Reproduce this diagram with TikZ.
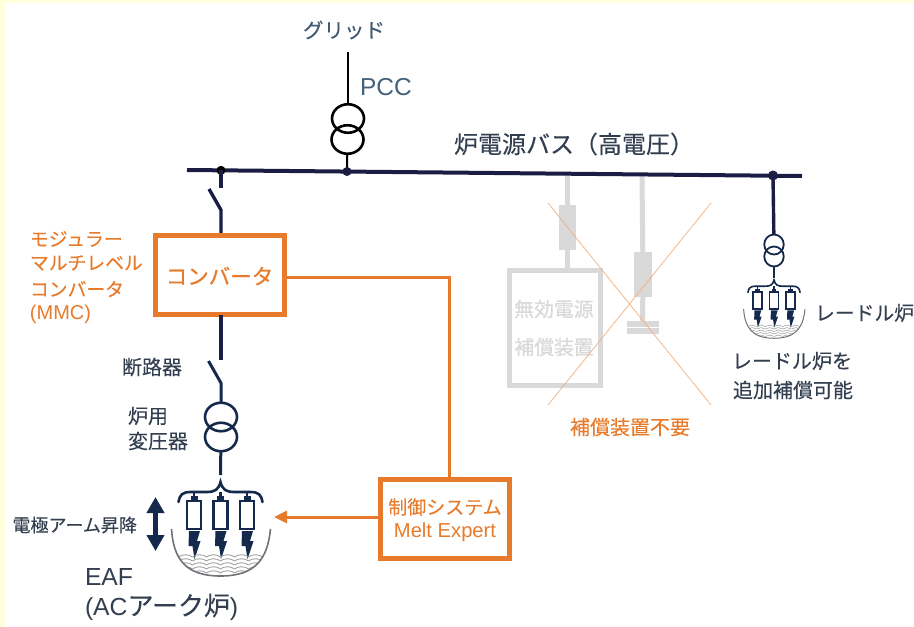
\documentclass[tikz,border=0pt]{standalone}
\usepackage{fontspec}
\setmainfont{Liberation Sans}
\newfontfamily\jp[FakeBold=0.12]{Noto Sans CJK JP}
\newfontfamily\jpm[FakeBold=0.6]{Noto Sans CJK JP}
\usetikzlibrary{arrows.meta,calc,shapes.geometric}
\definecolor{pageyellow}{HTML}{FFFFDC}
\definecolor{navy}{HTML}{1B1D45}
\definecolor{deepnavy}{HTML}{14294B}
\definecolor{ink}{HTML}{333F50}
\definecolor{pccblue}{HTML}{44617B}
\definecolor{brand}{HTML}{E87B2B}
\definecolor{ghost}{HTML}{D9D9D9}
\newcommand{\fs}[1]{\fontsize{#1}{#1}\selectfont}
\tikzset{
 x=1pt,y=-1pt,
 every node/.style={inner sep=0pt,outer sep=0pt},
 bus/.style={navy,line width=4pt},
 feeder/.style={navy,line width=3.4pt},
 wire/.style={deepnavy,line width=3pt},
 winding/.style={ellipse,draw=#1,line width=2.6pt,minimum width=32pt,minimum height=28.5pt,fill=none},
 smallwinding/.style={ellipse,draw=deepnavy,line width=1.8pt,minimum width=19.5pt,minimum height=20pt,fill=none},
 junction/.style={circle,fill=#1,minimum size=9pt},
 orangebox/.style={draw=brand,line width=5pt,fill=white},
 orangeline/.style={brand,line width=3pt},
 ghostline/.style={ghost,line width=5pt},
 ghostfill/.style={fill=ghost,draw=none},
 cross/.style={brand!60,line width=0.7pt},
 label/.style={text=ink,font=\jp\fs{#1}},
 orangetext/.style={text=brand,font=\jp\fs{#1}},
 furnace/.pic={
  \def\lw{#1}
  % brace
  \draw[deepnavy,line width=\lw*2.6pt,line cap=round]
    (-42,20) .. controls (-41,13) and (-38,10) .. (-30,10)
    -- (-14,10) .. controls (-6,10) and (-2,8) .. (0,0)
    .. controls (2,8) and (6,10) .. (14,10)
    -- (30,10) .. controls (38,10) and (41,13) .. (42,20);
  \foreach \ex in {-26.5,0,26.5}{
    \draw[deepnavy,line width=\lw*2.8pt] (\ex,10) -- (\ex,19);
    \fill[deepnavy] (\ex-3.5,14) rectangle (\ex+3.5,19);
    \draw[deepnavy,line width=\lw*2.4pt,fill=white] (\ex-7,19) rectangle (\ex+7,47);
    \fill[deepnavy] (\ex-5,49) -- (\ex+6,49) -- (\ex+3,59) -- (\ex+6.5,59) -- (\ex+0.5,77)
       -- (\ex-1.5,64) -- (\ex-5.5,64) -- cycle;
  }
  % melt
  \begin{scope}
   \clip (-49,47) .. controls (-47,77) and (-35,94) .. (0,94)
      .. controls (35,94) and (47,77) .. (50,47) -- cycle;
   \foreach \wy in {75,79,83,87,91}{
    \foreach \wx in {-56,-42,-28,-14,0,14,28,42}{
     \draw[gray!75,line width=\lw*0.9pt] (\wx,\wy) .. controls (\wx+4,\wy-3) and (\wx+10,\wy-3) .. (\wx+14,\wy);
    }
   }
  \end{scope}
  % vessel
  \draw[gray!85!deepnavy,line width=\lw*1.6pt]
    (-49,47) .. controls (-47,77) and (-35,94) .. (0,94)
    .. controls (35,94) and (47,77) .. (50,47);
 }
}
\begin{document}
\begin{tikzpicture}
\useasboundingbox (0,0) rectangle (914,627);
\fill[pageyellow] (0,0) rectangle (914,627);
\fill[white] (5,3) rectangle (914,627);

% --- junctions on the bus
\coordinate (busL) at (187,170);
\coordinate (busR) at (802,176);
\coordinate (jA) at (221,170.3);
\coordinate (jB) at (347,171.5);
\coordinate (jC) at (773,175.5);
\coordinate (jG1) at (567,174.5);
\coordinate (jG2) at (642,175);

% --- grey (not needed) compensators
\node[draw=ghost,line width=5pt,minimum width=91pt,minimum height=115pt,fill=white] (svcbox) at (555,328) {};
\node[ghostfill,minimum width=17pt,minimum height=45pt] (reactA) at (567,227) {};
\node[ghostfill,minimum width=18pt,minimum height=45pt] (reactB) at (643,274.5) {};
\node[ghostfill,minimum width=32pt,minimum height=6pt] (plateA) at (642.5,324) {};
\node[ghostfill,minimum width=32pt,minimum height=6pt] (plateB) at (642.5,331) {};
\draw[ghostline] (jG1) -- (reactA);
\draw[ghostline] (reactA) -- (reactA |- svcbox.north);
\draw[ghostline] (jG2) -- (reactB);
\draw[ghostline] (reactB) -- (plateA);
\node[text=ghost,font=\jpm\fs{19.8}] (svcA) at (554,309) {無効電源};
\node[text=ghost,font=\jpm\fs{19.8}] (svcB) at (554,347) {補償装置};
\coordinate (xa) at (548,203); \coordinate (xb) at (711,405);
\coordinate (xc) at (711,203); \coordinate (xd) at (548,405);
\draw[cross] (xa) -- (xb);
\draw[cross] (xc) -- (xd);

% --- bus
\draw[bus] (busL) -- (busR);

% --- grid / PCC
\coordinate (grid) at (348,52);
\node[winding=black] (pccA) at (348,118.5) {};
\node[winding=black] (pccB) at (347.5,139.5) {};
\draw[black,line width=2.4pt] (grid) -- (pccA);
\draw[black,line width=2pt] (pccB) -- (jB);
\node[junction=navy] (dotB) at (jB) {};
\node[junction=black] (dotA) at (jA) {};
\node[junction=navy,minimum size=10pt] (dotC) at (jC) {};

% --- main feeder
\coordinate (swAtop) at (221,188);
\coordinate (swAtip) at (209,189);
\coordinate (swAhinge) at (221,210);
\draw[feeder] (jA) -- (swAtop);
\draw[feeder,line join=round] (swAtip) -- (swAhinge) -- (221,234);

\node[orangebox,minimum width=129pt,minimum height=79pt] (conv) at (220,275) {};
\node[text=brand,font=\jpm\fs{21.5}] (convT) at (219.5,276) {コンバータ};

\coordinate (swBhinge) at (221,383);
\coordinate (swBtip) at (208.5,361);
\draw[feeder] (conv.south -| 221,0) -- (221,360);
\draw[wire,line join=round] (swBtip) -- (swBhinge) -- (221,403);

\node[winding=deepnavy] (trA) at (221,417) {};
\node[winding=deepnavy] (trB) at (221,437) {};
\coordinate (eafTop) at (220.5,475);
\draw[wire] (trB) -- (eafTop);
\pic at (220.5,482) {furnace=1};

% --- control
\node[orangebox,minimum width=129pt,minimum height=79pt] (ctrl) at (445,519) {};
\node[text=brand,font=\jp\fs{19}] (ctrlA) at (445,507) {制御システム};
\node[text=brand,font=\fs{20.2}] (ctrlB) at (445,532) {Melt Expert};
\draw[orangeline] (conv.east |- 0,277) -- (449,277) -- (ctrl.north -| 449,0);
\coordinate (eafIn) at (274,517);
\draw[orangeline,-{Triangle[length=13pt,width=12pt]}] (ctrl.west |- eafIn) -- (eafIn);

% --- electrode arm
\coordinate (armT) at (155.5,497);
\coordinate (armB) at (155.5,551);
\draw[deepnavy,line width=5.5pt,{Triangle[length=16pt,width=17pt]}-{Triangle[length=16pt,width=17pt]}] (armT) -- (armB);

% --- ladle furnace
\node[smallwinding] (ldA) at (774,244.5) {};
\node[smallwinding] (ldB) at (774,256.5) {};
\draw[feeder] (jC) -- (ldA);
\coordinate (ladleTop) at (774,278);
\draw[deepnavy,line width=1.8pt] (ldB) -- (ladleTop);
\pic[scale=.62] at (774,280) {furnace=.62};

% --- labels
\node[label=20.5,text=pccblue!80!ink] (tGrid) at (344,30) {グリッド};
\node[text=pccblue,font=\fs{24.5}] (tPcc) at (386,87) {PCC};
\node[label=24,anchor=west] (tBus) at (454,144) {炉電源バス（高電圧）};
\node[orangetext=18.8,anchor=west] (tM1) at (30,239) {モジュラー};
\node[orangetext=18.8,anchor=west] (tM2) at (30,263) {マルチレベル};
\node[orangetext=18.8,anchor=west] (tM3) at (30,289) {コンバータ};
\node[text=brand,font=\fs{20},anchor=west] (tM4) at (30,314) {(MMC)};
\node[label=20] (tBrk) at (152,367) {断路器};
\node[label=20,anchor=west] (tTr1) at (128,416) {炉用};
\node[label=20,anchor=west] (tTr2) at (128,441) {変圧器};
\node[label=18,anchor=west] (tArm) at (12.5,525) {電極アーム昇降};
\node[text=ink,font=\fs{24.7},anchor=west] (tEaf) at (85,577) {EAF};
\node[text=ink,font=\fs{24.7},anchor=west] (tEaf2) at (85,607) {(AC{\jp\fs{26}アーク炉})};
\node[orangetext=20] (tNo) at (630,427) {補償装置不要};
\node[label=19.8,anchor=west] (tLd) at (815,313) {レードル炉};
\node[label=20,anchor=west] (tLd1) at (732,361) {レードル炉を};
\node[label=20,anchor=west] (tLd2) at (733,390) {追加補償可能};
\end{tikzpicture}
\end{document}
